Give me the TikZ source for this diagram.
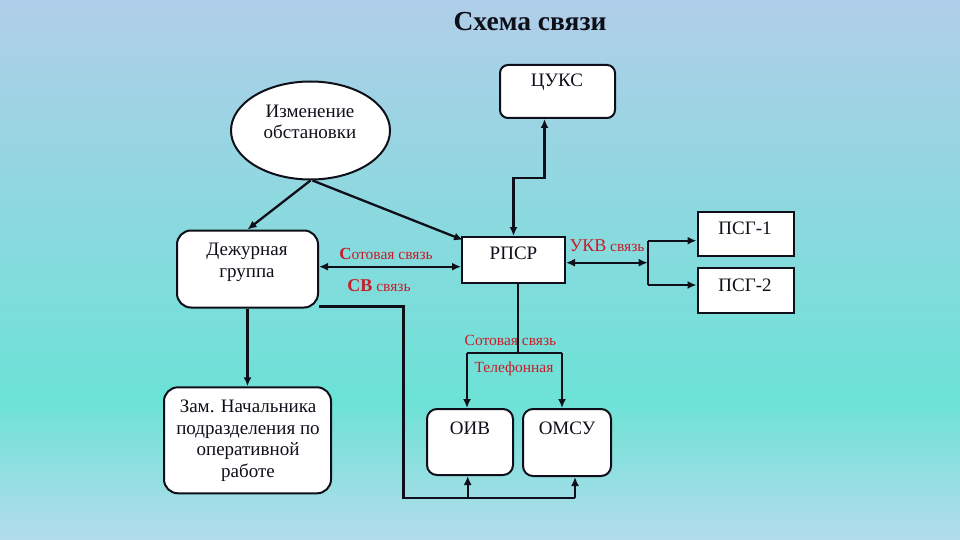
\documentclass[tikz,border=0pt]{standalone}
\usepackage{fontspec}
\setmainfont{Liberation Serif}
\usetikzlibrary{arrows.meta,shapes.geometric}
\definecolor{bgtop}{RGB}{176,206,233}
\definecolor{bgmid}{RGB}{108,226,214}
\definecolor{bgbot}{RGB}{180,220,236}
\definecolor{lblred}{RGB}{200,28,40}
\definecolor{ink}{RGB}{15,15,25}
\pgfdeclareverticalshading{bgshade}{100bp}{color(0bp)=(bgbot); color(25bp)=(bgbot); color(38bp)=(bgmid); color(75bp)=(bgtop); color(100bp)=(bgtop)}
\begin{document}
\begin{tikzpicture}[x=1pt,y=-1pt,
  box/.style={draw=ink, line width=2pt, fill=white, inner sep=0pt},
  rbox/.style={box, rounded corners=12pt},
  txt/.style={font=\fontsize{19}{21.5}\selectfont, inner sep=0pt, align=center, text=ink},
  lbl/.style={font=\fontsize{15.5}{17}\selectfont, text=lblred, inner sep=0pt},
  conn/.style={line width=2.3pt, draw=ink},
  thinconn/.style={line width=1.6pt, draw=ink},
  tip/.style={-{Latex[length=9pt,width=8pt]}},
  dtip/.style={{Latex[length=9pt,width=8pt]}-{Latex[length=9pt,width=8pt]}}]
\useasboundingbox (0,0) rectangle (960,540);
\shade[shading=bgshade] (0,0) rectangle (960,540);

% title
\node[font=\fontsize{27.5}{30}\selectfont\bfseries, text=ink, inner sep=0pt] (title) at (530,22) {Схема связи};

% boxes
\node[rbox, rounded corners=8pt, minimum width=115pt, minimum height=53pt] (cuks) at (557.5,91.5) {};
\node[txt] (cukst) at (557,82) {ЦУКС};

\node[ellipse, draw=ink, line width=2pt, fill=white, minimum width=159pt, minimum height=98pt, inner sep=0pt] (ell) at (310.5,130.5) {};
\node[txt] (ellt) at (310,122) {Изменение\\обстановки};

\node[rbox, rounded corners=14pt, minimum width=141pt, minimum height=77pt] (duty) at (247.5,269) {};
\node[txt] (dutyt) at (247,262.5) {Дежурная\\группа};

\node[box, minimum width=103pt, minimum height=46pt] (rpsr) at (513.5,260) {};
\node[txt] (rpsrt) at (513.5,253) {РПСР};

\node[box, minimum width=96pt, minimum height=44pt] (psg1) at (745.5,234) {};
\node[txt] (psg1t) at (745,228.5) {ПСГ-1};
\node[box, minimum width=96pt, minimum height=45pt] (psg2) at (745.5,290.5) {};
\node[txt] (psg2t) at (745,285) {ПСГ-2};

\node[rbox, rounded corners=14pt, minimum width=167pt, minimum height=106pt] (zam) at (247.5,440.3) {};
\node[txt] (zamt) at (248,440.5) {Зам. Начальника\\подразделения по\\оперативной\\работе};

\node[rbox, rounded corners=10pt, minimum width=86pt, minimum height=66pt] (oiv) at (470,442) {};
\node[txt] (oivt) at (470,428) {ОИВ};
\node[rbox, rounded corners=10pt, minimum width=88pt, minimum height=67pt] (omsu) at (567,442.5) {};
\node[txt] (omsut) at (567,428) {ОМСУ};

% connectors from the ellipse
\draw[conn,tip] (ell.south) -- (duty.north);
\draw[conn,tip] ([xshift=2pt]ell.south) -- ([xshift=2pt,yshift=-4pt]rpsr.north west);

% RPSR <-> CUKS
\draw[conn,dtip] (rpsr.north) -- ++(0,-58) -| ([xshift=-13pt]cuks.south);

% Duty <-> RPSR
\draw[conn,dtip] ([yshift=2.3pt]duty.east) -- ([yshift=2.3pt]duty.east -| rpsr.west);
\node[lbl] (l1) at (386,254) {{\fontsize{17}{17}\selectfont\bfseries С}отовая связь};
\node[lbl] (l2) at (379,286) {{\fontsize{18}{17}\selectfont\bfseries СВ} связь};

% RPSR <-> PSG
\coordinate (busT) at (647.7,240.7);
\coordinate (busB) at (647.7,285);
\draw[conn,dtip] ([yshift=-2.7pt]rpsr.east) -- ([yshift=-2.7pt]rpsr.east -| busT);
\draw[conn] (busT) -- (busB);
\draw[conn,tip] (busT) -- (busT -| psg1.west);
\draw[conn,tip] (busB) -- (busB -| psg2.west);
\node[lbl] (l3) at (607,245.5) {{\fontsize{18}{17}\selectfont УКВ} связь};

% RPSR -> OIV / OMSU
\coordinate (spl) at (518,353);
\coordinate (sL) at (467,353);
\coordinate (sR) at (562,353);
\draw[thinconn] ([xshift=4.5pt]rpsr.south) -- (spl);
\draw[conn] (sL) -- (sR);
\draw[conn,tip] (sL) -- (sL |- oiv.north);
\draw[conn,tip] (sR) -- (sR |- omsu.north);
\node[lbl] (l4) at (510.5,340) {Сотовая связь};
\node[lbl] (l5) at (514,369) {Телефонная};

% Duty -> Zam
\draw[conn,tip] (duty.south) -- (zam.north);

% Duty -> OIV / OMSU from below
\coordinate (bl) at (403.5,498);
\coordinate (bm) at (467.7,498);
\coordinate (br) at (575,498);
\draw[conn] ([yshift=2pt]duty.south east) -| (bl) -- (br);
\draw[conn,tip] (bm) -- (bm |- oiv.south);
\draw[conn,tip] (br) -- (br |- omsu.south);
\end{tikzpicture}
\end{document}
